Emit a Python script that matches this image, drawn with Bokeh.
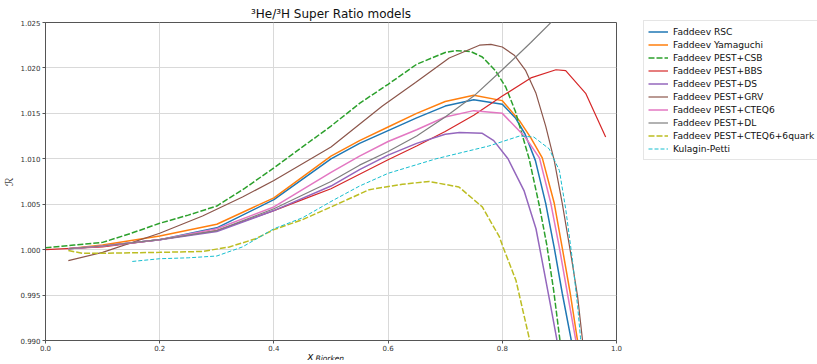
from bokeh.plotting import figure
from bokeh.models import Range1d, Legend, LegendItem, FixedTicker, Title
from bokeh.embed import file_html
from bokeh.resources import INLINE

# ---- data ----
rsc_x = [0.04, 0.1, 0.2, 0.3, 0.4, 0.5, 0.55, 0.6, 0.65, 0.7, 0.75, 0.8, 0.823, 0.84, 0.858, 0.876, 0.891, 0.905, 0.92, 0.925]
rsc_y = [1.0001, 1.0004, 1.0011, 1.0024, 1.0055, 1.0100, 1.0117, 1.0131, 1.0145, 1.0158, 1.0165, 1.0160, 1.0145, 1.0127, 1.0098, 1.0051, 1.0002, 0.9952, 0.9903, 0.9885]

yam_x = [0.04, 0.1, 0.2, 0.3, 0.4, 0.5, 0.55, 0.6, 0.65, 0.7, 0.75, 0.8, 0.83, 0.85, 0.87, 0.891, 0.905, 0.919, 0.931, 0.936]
yam_y = [1.0001, 1.0005, 1.0015, 1.0028, 1.0057, 1.0103, 1.0120, 1.0135, 1.0150, 1.0163, 1.0170, 1.0164, 1.0142, 1.0123, 1.0101, 1.0051, 1.0002, 0.9952, 0.9903, 0.9885]

csb_x = [0.0, 0.05, 0.1, 0.15, 0.2, 0.25, 0.3, 0.35, 0.4, 0.45, 0.5, 0.55, 0.6, 0.65, 0.7, 0.72, 0.745, 0.765, 0.788, 0.806, 0.823, 0.847, 0.865, 0.878, 0.89, 0.9, 0.904]
csb_y = [1.0002, 1.0005, 1.0008, 1.0018, 1.0029, 1.0038, 1.0048, 1.0068, 1.0090, 1.0113, 1.0136, 1.0161, 1.0182, 1.0204, 1.0217, 1.0219, 1.0218, 1.0212, 1.0197, 1.0179, 1.0152, 1.0100, 1.0048, 1.0005, 0.9955, 0.9905, 0.9885]

bbs_x = [0.0, 0.1, 0.2, 0.3, 0.4, 0.45, 0.5, 0.55, 0.6, 0.65, 0.7, 0.75, 0.8, 0.85, 0.894, 0.911, 0.946, 0.981]
bbs_y = [1.0000, 1.0003, 1.0011, 1.0021, 1.0043, 1.0055, 1.0067, 1.0083, 1.0099, 1.0114, 1.0130, 1.0148, 1.0169, 1.0189, 1.0198, 1.0197, 1.0172, 1.0124]

ds_x = [0.04, 0.1, 0.2, 0.3, 0.4, 0.5, 0.55, 0.6, 0.65, 0.7, 0.725, 0.765, 0.785, 0.81, 0.838, 0.859, 0.873, 0.885, 0.895, 0.899]
ds_y = [1.0001, 1.0004, 1.0011, 1.0020, 1.0043, 1.0070, 1.0088, 1.0104, 1.0117, 1.0127, 1.0129, 1.0128, 1.0120, 1.0100, 1.0065, 1.0023, 0.9977, 0.9937, 0.9903, 0.9885]

grv_x = [0.04, 0.1, 0.2, 0.275, 0.345, 0.4, 0.5, 0.59, 0.648, 0.707, 0.76, 0.78, 0.8, 0.821, 0.841, 0.859, 0.876, 0.891, 0.905, 0.92, 0.932, 0.94, 0.943]
grv_y = [0.9988, 0.9997, 1.0018, 1.0037, 1.0058, 1.0076, 1.0113, 1.0158, 1.0184, 1.0211, 1.0225, 1.0226, 1.0223, 1.0214, 1.0197, 1.0172, 1.0136, 1.0098, 1.0051, 0.9995, 0.9948, 0.9903, 0.9885]

cteq6_x = [0.04, 0.1, 0.2, 0.3, 0.4, 0.5, 0.55, 0.6, 0.65, 0.7, 0.75, 0.8, 0.84, 0.865, 0.885, 0.9, 0.914, 0.928, 0.933]
cteq6_y = [1.0001, 1.0004, 1.0011, 1.0023, 1.0047, 1.0085, 1.0103, 1.0119, 1.0132, 1.0146, 1.0153, 1.0150, 1.0124, 1.0101, 1.0051, 1.0002, 0.9952, 0.9903, 0.9885]

dl_x = [0.04, 0.1, 0.2, 0.3, 0.4, 0.5, 0.55, 0.6, 0.65, 0.7, 0.75, 0.8, 0.85, 0.89, 0.9]
dl_y = [1.0001, 1.0004, 1.0011, 1.0021, 1.0045, 1.0075, 1.0093, 1.0108, 1.0125, 1.0146, 1.0169, 1.0198, 1.0228, 1.0253, 1.0260]

q6_x = [0.04, 0.065, 0.1, 0.2, 0.275, 0.322, 0.368, 0.4, 0.45, 0.5, 0.567, 0.625, 0.672, 0.724, 0.765, 0.795, 0.8, 0.824, 0.847, 0.852]
q6_y = [0.9999, 0.9996, 0.9996, 0.9997, 0.9998, 1.0003, 1.0012, 1.0022, 1.0033, 1.0047, 1.0066, 1.0072, 1.0075, 1.0069, 1.0047, 1.0014, 1.0005, 0.9966, 0.9903, 0.9885]

kp_x = [0.152, 0.2, 0.25, 0.3, 0.345, 0.4, 0.45, 0.5, 0.55, 0.6, 0.684, 0.776, 0.83, 0.855, 0.882, 0.9, 0.911, 0.923, 0.932, 0.937, 0.939]
kp_y = [0.9987, 0.9990, 0.9991, 0.9993, 1.0003, 1.0023, 1.0035, 1.0053, 1.0070, 1.0084, 1.0100, 1.0114, 1.0125, 1.0124, 1.0111, 1.0087, 1.0045, 0.9988, 0.9937, 0.9903, 0.9885]

series = [
    ("Faddeev RSC", rsc_x, rsc_y, "#1f77b4", "solid", 1.5),
    ("Faddeev Yamaguchi", yam_x, yam_y, "#ff7f0e", "solid", 1.5),
    ("Faddeev PEST+CSB", csb_x, csb_y, "#2ca02c", "6 2", 1.5),
    ("Faddeev PEST+BBS", bbs_x, bbs_y, "#d62728", "solid", 1.2),
    ("Faddeev PEST+DS", ds_x, ds_y, "#9467bd", "solid", 1.5),
    ("Faddeev PEST+GRV", grv_x, grv_y, "#8c564b", "solid", 1.2),
    ("Faddeev PEST+CTEQ6", cteq6_x, cteq6_y, "#e377c2", "solid", 1.5),
    ("Faddeev PEST+DL", dl_x, dl_y, "#7f7f7f", "solid", 1.2),
    ("Faddeev PEST+CTEQ6+6quark", q6_x, q6_y, "#bcbd22", "6 2", 1.5),
    ("Kulagin-Petti", kp_x, kp_y, "#17becf", "4 2", 1.0),
]

x_ticks = [0.0, 0.2, 0.4, 0.6, 0.8, 1.0]
y_ticks = [0.990, 0.995, 1.000, 1.005, 1.010, 1.015, 1.020, 1.025]

FONT = "DejaVu Sans"

p = figure(frame_width=571, frame_height=318, output_backend="svg", toolbar_location=None,
           x_range=Range1d(0.0, 1.0), y_range=Range1d(0.990, 1.025),
           min_border_left=43, min_border_right=203, min_border_top=22, min_border_bottom=20)

p.background_fill_color = "white"
p.border_fill_color = "white"
p.outline_line_color = "#555555"
p.outline_line_width = 1

p.title = Title(text="³He/³H Super Ratio models", align="center", text_font=FONT,
                text_font_size="12px", text_font_style="normal", text_color="#111111",
                standoff=3, offset=0)

for ax in (p.xaxis, p.yaxis):
    ax.axis_line_color = "#555555"
    ax.major_tick_line_color = "#555555"
    ax.major_tick_out = 3
    ax.major_tick_in = 0
    ax.minor_tick_line_color = None
    ax.major_label_text_font = FONT
    ax.major_label_text_font_size = "7px"
    ax.major_label_text_color = "#333333"
    ax.major_label_standoff = 2

p.xaxis.ticker = FixedTicker(ticks=x_ticks)
p.yaxis.ticker = FixedTicker(ticks=y_ticks)
p.xaxis.major_label_overrides = {t: f"{t:.1f}" for t in x_ticks}
p.yaxis.major_label_overrides = {t: f"{t:.3f}" for t in y_ticks}
p.xaxis.major_label_standoff = 1

p.yaxis.axis_label = "ℛ"
p.yaxis.axis_label_text_font = FONT
p.yaxis.axis_label_text_font_style = "normal"
p.yaxis.axis_label_text_font_size = "11px"
p.yaxis.axis_label_standoff = 1

p.xgrid.grid_line_color = "#d9d9d9"
p.ygrid.grid_line_color = "#d9d9d9"
p.xgrid.grid_line_width = 1
p.ygrid.grid_line_width = 1

items = []
for name, xs, ys, col, dash, lw in series:
    r = p.line(xs, ys, line_color=col, line_width=lw, line_dash=dash)
    items.append(LegendItem(label=name, renderers=[r]))

legend = Legend(items=items, location=(27, 180))
legend.label_text_font = FONT
legend.label_text_font_size = "9.1px"
legend.label_text_color = "#111111"
legend.glyph_width = 20
legend.glyph_height = 13
legend.label_height = 13
legend.spacing = 0
legend.padding = 4
legend.margin = 0
legend.label_standoff = 5
legend.border_line_color = "#cccccc"
legend.border_line_width = 1
legend.background_fill_alpha = 1.0
p.add_layout(legend, "right")

t_x = Title(text="x", align="left", offset=262, text_font=FONT, text_font_size="10px",
            text_font_style="italic", text_color="#111111", standoff=-6, vertical_align="top")
t_b = Title(text="Bjorken", align="left", offset=270, text_font=FONT, text_font_size="7.5px",
            text_font_style="italic", text_color="#111111", standoff=-14, vertical_align="top")
p.add_layout(t_x, "below")
p.add_layout(t_b, "below")

open("out.html", "w").write(file_html(p, INLINE))
